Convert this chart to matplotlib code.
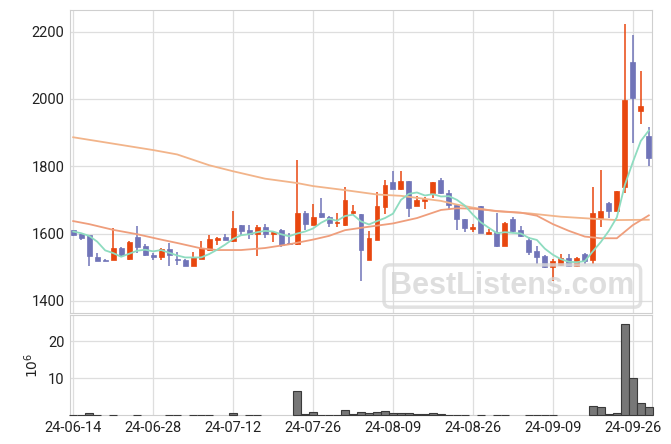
import numpy as np
import pandas as pd
import matplotlib
matplotlib.use("Agg")
import matplotlib.pyplot as plt

plt.rcParams['font.family'] = ['Roboto', 'DejaVu Sans']

# trading days (KRX calendar, Liberation Day + Chuseok closed)
holidays = ['2024-08-15', '2024-09-16', '2024-09-17', '2024-09-18']
dates = pd.bdate_range('2024-06-14', '2024-09-30', freq='C', holidays=holidays)

opens = [1611, 1599, 1596, 1530, 1522, 1520, 1556, 1524, 1590, 1563,
         1537, 1529, 1553, 1525, 1522, 1505, 1525, 1550, 1580, 1590,
         1578, 1626, 1611, 1598, 1620, 1598, 1611, 1573, 1570, 1661,
         1626, 1661, 1650, 1631, 1625, 1661, 1657, 1520, 1580, 1680,
         1753, 1731, 1756, 1681, 1697, 1719, 1759, 1721, 1684, 1643,
         1614, 1682, 1598, 1606, 1564, 1644, 1612, 1582, 1548, 1532,
         1500, 1508, 1526, 1503, 1540, 1520, 1647, 1691, 1667, 1738,
         2111, 1965, 1891]
highs = [1612, 1600, 1596, 1542, 1525, 1616, 1561, 1577, 1623, 1569,
         1542, 1556, 1573, 1545, 1523, 1545, 1578, 1596, 1590, 1598,
         1667, 1626, 1624, 1626, 1628, 1608, 1613, 1603, 1818, 1667,
         1689, 1707, 1651, 1661, 1739, 1684, 1657, 1608, 1722, 1758,
         1786, 1786, 1756, 1712, 1709, 1753, 1766, 1730, 1684, 1643,
         1628, 1682, 1613, 1662, 1633, 1649, 1621, 1591, 1564, 1535,
         1525, 1540, 1540, 1530, 1542, 1739, 1788, 1694, 1727, 2221,
         2191, 2084, 1916]
lows = [1593, 1582, 1504, 1517, 1517, 1520, 1532, 1522, 1542, 1532,
        1522, 1522, 1504, 1507, 1505, 1505, 1524, 1547, 1565, 1580,
        1576, 1593, 1583, 1533, 1586, 1576, 1561, 1568, 1566, 1610,
        1626, 1645, 1618, 1618, 1623, 1655, 1459, 1520, 1580, 1657,
        1731, 1729, 1650, 1681, 1672, 1707, 1717, 1672, 1612, 1606,
        1606, 1603, 1598, 1560, 1564, 1601, 1589, 1535, 1510, 1498,
        1460, 1505, 1500, 1502, 1510, 1510, 1618, 1645, 1667, 1720,
        1869, 1925, 1800]
closes = [1597, 1586, 1532, 1517, 1517, 1556, 1535, 1575, 1561, 1535,
          1529, 1553, 1537, 1520, 1505, 1529, 1556, 1584, 1586, 1580,
          1616, 1608, 1598, 1620, 1598, 1606, 1566, 1570, 1661, 1628,
          1650, 1650, 1630, 1633, 1699, 1667, 1550, 1586, 1682, 1745,
          1731, 1756, 1677, 1699, 1702, 1753, 1719, 1684, 1642, 1616,
          1618, 1603, 1606, 1564, 1630, 1607, 1592, 1545, 1530, 1502,
          1518, 1526, 1503, 1526, 1518, 1662, 1666, 1667, 1727, 1998,
          2002, 1980, 1824]
# volume, millions of shares
volume = [0.1, 0.1, 0.45, 0.1, 0, 0.1, 0, 0, 0.1, 0,
          0, 0, 0.1, 0.1, 0, 0.1, 0.1, 0.1, 0, 0,
          0.5, 0, 0.1, 0.1, 0, 0, 0, 0, 6.5, 0.25,
          0.7, 0.1, 0.1, 0.1, 1.35, 0.15, 0.8, 0.5, 0.8, 1.1,
          0.55, 0.55, 0.45, 0.15, 0.15, 0.5, 0.15, 0.1, 0.1, 0.1,
          0, 0.1, 0, 0.1, 0.1, 0, 0, 0.1, 0.1, 0.1,
          0.1, 0, 0, 0, 0, 2.4, 2.1, 0.3, 0.55, 24.8,
          10.2, 3.2, 2.1]

ma5 = [1606, 1601, 1593, 1576, 1550, 1542, 1531, 1540, 1549, 1552,
       1547, 1551, 1543, 1535, 1529, 1529, 1529, 1539, 1552, 1567,
       1584, 1595, 1598, 1604, 1608, 1606, 1598, 1592, 1600, 1606,
       1615, 1632, 1644, 1638, 1652, 1656, 1636, 1627, 1637, 1646,
       1659, 1700, 1718, 1722, 1713, 1717, 1710, 1711, 1700, 1683,
       1656, 1633, 1617, 1601, 1604, 1602, 1600, 1587, 1581, 1555,
       1537, 1524, 1516, 1515, 1518, 1547, 1575, 1608, 1648, 1744,
       1812, 1875, 1906]
ma20_idx = [0, 2, 5, 8, 11, 13, 16, 18, 21, 24, 27, 30, 32, 34, 36, 40,
            43, 46, 48, 50, 53, 56, 58, 60, 62, 64, 66, 68, 70, 72]
ma20 = [1637, 1628, 1611, 1598, 1582, 1572, 1556, 1551, 1551, 1557, 1568,
        1582, 1593, 1610, 1617, 1630, 1646, 1670, 1675, 1674, 1667, 1662,
        1653, 1628, 1608, 1591, 1586, 1586, 1625, 1654]
ma_long_idx = [0, 10, 13, 17, 20, 24, 28, 30, 34, 38, 41, 46, 48, 50, 53,
               57, 61, 65, 68, 72]
ma_long = [1886, 1848, 1835, 1803, 1785, 1763, 1750, 1741, 1729, 1716, 1712,
           1697, 1686, 1677, 1666, 1660, 1650, 1644, 1640, 1641]

up_color = '#e8470f'
down_color = '#7074b8'
grid_color = '#dedede'

x = np.arange(len(dates))
o = np.array(opens)
c = np.array(closes)
colors = np.where(c >= o, up_color, down_color)

fig = plt.figure(figsize=(6.71, 4.44), dpi=100)
ax = fig.add_axes([70 / 671, 1 - 313 / 444, 582 / 671, 303 / 444])
axv = fig.add_axes([70 / 671, 1 - 415 / 444, 582 / 671, 100 / 444], sharex=ax)

# candles
ax.vlines(x, lows, highs, colors=colors, linewidth=1.1, zorder=3)
body = np.maximum(np.abs(c - o), 2)
ax.bar(x, body, bottom=np.minimum(o, c), width=0.62, color=colors,
       edgecolor=colors, linewidth=0.5, zorder=3)

# moving averages
ax.plot(ma_long_idx, ma_long, color='#f2b48a', lw=1.3, zorder=4)
ax.plot(ma20_idx, ma20, color='#ef9e7c', lw=1.3, zorder=4)
ax.plot(x, ma5, color='#8edcc0', lw=1.3, zorder=4)

ax.set_ylim(1364, 2264)
ax.set_yticks([1400, 1600, 1800, 2000, 2200])
ax.set_xlim(-0.4, 72.4)

# volume
vol = np.array(volume)
has = vol > 0
vbars = axv.bar(x[has], vol[has], width=1.0, color='#777777',
                edgecolor='#3a3a3a', linewidth=0.8, zorder=3)
for b in vbars:
    b.set_clip_on(False)
axv.set_ylim(0, 27.2)
axv.set_yticks([10, 20])
axv.set_ylabel(r'$10^{6}$', fontsize=10, labelpad=5, color='#222222')

tick_pos = list(range(0, len(dates), 10))
axv.set_xticks(tick_pos)
axv.set_xticklabels([dates[i].strftime('%y-%m-%d') for i in tick_pos])
plt.setp(ax.get_xticklabels(), visible=False)

for a in (ax, axv):
    a.grid(True, color=grid_color, linewidth=0.9, zorder=0)
    a.set_axisbelow(True)
    a.tick_params(length=0, labelsize=10.5, colors='#222222', pad=4)
    for s in a.spines.values():
        s.set_color('#cfcfcf')

# watermark
ax.text(0.76, 0.089, 'BestListens.com', transform=ax.transAxes,
        ha='center', va='center', fontsize=22, fontweight='bold',
        family='Liberation Sans', color='#d4d4d4', alpha=0.75, zorder=6,
        bbox=dict(boxstyle='round,pad=0.2,rounding_size=0.2', fc='none',
                  ec='#dadada', lw=2.5, alpha=0.8))

fig.savefig('out.png', dpi=100)
